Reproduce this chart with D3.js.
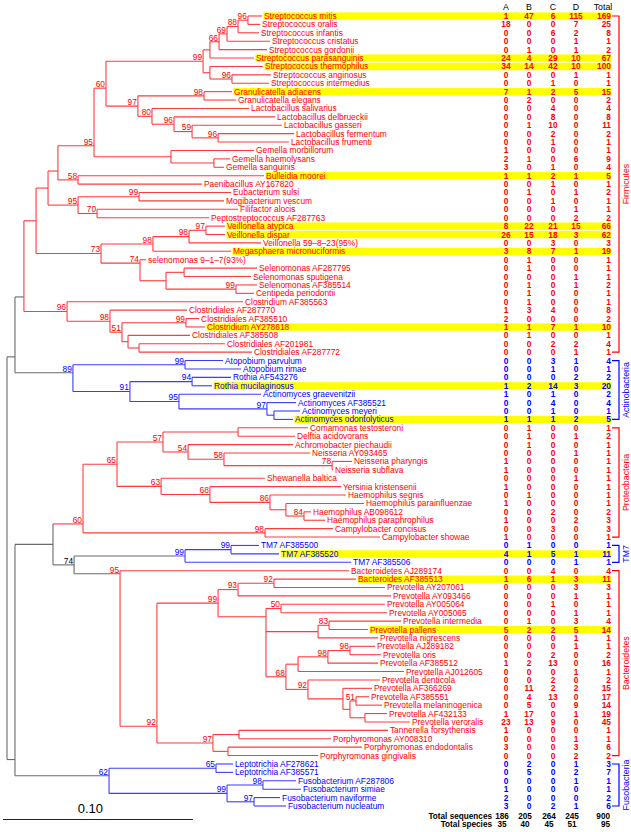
<!DOCTYPE html>
<html><head><meta charset="utf-8">
<script src="https://cdn.jsdelivr.net/npm/d3@7"></script>
<style>body{margin:0;background:#fff}svg{display:block}text{font-family:"Liberation Sans",Arial,sans-serif}</style>
</head><body><svg id="c" width="631" height="832"></svg>
<script>
// ---------------- DATA ----------------
const species = ["Streptococcus mitis","Streptococcus oralis","Streptococcus infantis","Streptococcus cristatus","Streptococcus gordonii","Streptococcus parasanguinis","Streptococcus thermophilus","Streptococcus anginosus","Streptococcus intermedius","Granulicatella adiacens","Granulicatella elegans","Lactobacillus salivarius","Lactobacillus delbrueckii","Lactobacillus gasseri","Lactobacillus fermentum","Lactobacillus frumenti","Gemella morbillorum","Gemella haemolysans","Gemella sanguinis","Bulleidia moorei","Paenibacillus AY167820","Eubacterium sulsi","Mogibacterium vescum","Filifactor alocis","Peptostreptococcus AF287763","Veillonella atypica","Veillonella dispar","Veillonella 59–8–23(95%)","Megasphaera micronuciformis","selenomonas 9–1–7(93%)","Selenomonas AF287795","Selenomonas sputigena","Selenomonas AF385514","Centipeda periodontii","Clostridium AF385563","Clostridiales AF287770","Clostridiales AF385510","Clostridium AY278618","Clostridiales AF385508","Clostridiales AF201981","Clostridiales AF287772","Atopobium parvulum","Atopobium rimae","Rothia AF543276","Rothia mucilaginosus","Actinomyces graevenitzii","Actinomyces AF385521","Actinomyces meyeri","Actinomyces odontolyticus","Comamonas testosteroni","Delftia acidovorans","Achromobacter piechaudii","Neisseria AY093465","Neisseria pharyngis","Neisseria subflava","Shewanella baltica","Yersinia kristensenii","Haemophilus segnis","Haemophilus parainfluenzae","Haemophilus AB098612","Haemophilus paraphrophilus","Campylobacter concisus","Campylobacter showae","TM7 AF385500","TM7 AF385520","TM7 AF385506","Bacteroidetes AJ289174","Bacteroides AF385513","Prevotella AY207061","Prevotella AY093466","Prevotella AY005064","Prevotella AY005065","Prevotella intermedia","Prevotella pallens","Prevotella nigrescens","Prevotella AJ289182","Prevotella oris","Prevotella AF385512","Prevotella AJ012605","Prevotella denticola","Prevotella AF366269","Prevotella AF385551","Prevotella melaninogenica","Prevotella AF432133","Prevotella veroralis","Tannerella forsythensis","Porphyromonas AY008310","Porphyromonas endodontalis","Porphyromonas gingivalis","Leptotrichia AF278621","Leptotrichia AF385571","Fusobacterium AF287806","Fusobacterium simiae","Fusobacterium naviforme","Fusobacterium nucleatum"];

const countA = [1,18,0,0,0,24,34,0,0,7, 0,0,0,0,0,0,1,2,3,1, 0,0,0,0,0,8,26,0,3,0, 0,0,0,0,0,1,2,1,0,0, 0,0,0,0,1,1,0,0,1,0, 0,0,0,1,1,0,1,0,1,0, 1,0,1,0,4,0,0,1,0,0, 0,0,0,5,0,0,0,1,0,0, 0,0,0,1,23,1,0,3,0,0, 0,0,1,2,3];
const countB = [47,0,0,0,1,4,14,0,0,1, 2,0,0,1,0,0,0,1,0,1, 0,1,0,0,0,22,15,0,8,1, 1,0,1,1,1,3,0,1,1,0, 0,0,0,0,2,0,0,0,1,1, 1,1,0,0,0,0,0,1,0,0, 0,0,0,1,1,0,0,6,0,0, 0,0,1,2,0,0,0,2,0,0, 11,4,5,17,13,0,0,0,0,2, 5,0,0,0,0];
const countC = [6,0,6,0,0,29,42,0,1,2, 0,4,8,10,2,1,0,0,1,2, 1,0,1,0,0,21,18,3,7,0, 0,0,0,0,0,4,0,7,0,2, 0,3,1,0,14,1,4,1,1,0, 0,0,0,0,0,0,0,0,0,2, 0,3,0,0,5,0,4,1,0,0, 1,0,0,2,0,0,2,13,0,2, 2,13,0,0,9,0,0,0,0,0, 0,0,0,0,2];
const countD = [115,7,2,1,1,10,10,1,0,5, 0,0,0,0,0,0,0,6,0,1, 0,1,0,1,2,15,3,0,1,0, 0,1,1,0,0,0,0,1,0,2, 1,1,0,2,3,0,0,0,2,0, 1,0,1,0,0,1,0,0,0,0, 2,0,0,0,1,1,0,3,3,1, 0,1,3,5,1,1,0,0,1,0, 2,0,9,1,0,0,1,3,2,1, 2,1,0,0,1];
const totals = [169,25,8,1,2,67,100,1,1,15, 2,4,8,11,2,1,1,9,4,5, 1,2,1,1,2,66,62,3,19,1, 1,1,2,1,1,8,2,10,1,4, 1,4,1,2,20,2,4,1,5,1, 2,1,1,1,1,1,1,1,1,2, 3,3,1,1,11,1,4,11,3,1, 1,1,4,14,1,1,2,16,1,2, 15,17,14,19,45,1,1,6,2,3, 7,1,1,2,6];
const highlighted = ["Streptococcus mitis","Streptococcus parasanguinis","Streptococcus thermophilus","Granulicatella adiacens","Bulleidia moorei","Veillonella atypica","Veillonella dispar","Megasphaera micronuciformis","Clostridium AY278618","Rothia mucilaginosus","Actinomyces odontolyticus","TM7 AF385520","Bacteroides AF385513","Prevotella pallens"];

const columnHeaders = ["A","B","C","D","Total"];
const totalSequences = [186,205,264,245,900];
const totalSpecies = [35,40,45,51,95];

// leaf depth from root (in % divergence, i.e. 1 = 0.01)
const leafDepth = [13.42,13.32,13.26,13.84,13.68,13.0,13.47,13.89,13.79,11.84, 12.05,12.74,14.11,14.47,15.11,14.84,13.0,11.74,11.42,13.53, 10.26,11.79,11.42,12.16,10.63,11.47,11.47,13.37,11.79,7.32, 13.16,12.84,13.16,13.0,12.42,9.47,10.11,10.42,9.63,11.47, 12.89,11.37,12.32,11.79,10.79,13.37,15.21,15.42,15.05,15.84, 15.16,15.05,15.95,18.16,17.16,13.58,17.58,17.84,18.79,16.0, 16.74,17.16,19.63,13.26,14.32,18.11,18.0,18.37,19.89,20.21, 19.89,20.0,20.74,19.0,19.53,19.37,19.68,19.53,20.89,19.63, 19.21,19.05,19.74,20.0,21.21,20.05,17.05,18.68,16.37,11.89, 11.89,15.21,15.47,14.37,14.68];
// parent node of each leaf
const leafParent = ["n96a","n96a","n88","n69","n66","P","T","n96b","n96b","n98g", "n98g","n80","n96c","n59","n96d","n96d","Gem","GH","GH","n58", "n58","n99e","n99e","n70","n70","n97v","n97v","n98w","n98v","n74", "SA","SA","n99s","n99s","n96cl","n98cl","n99cl","n99cl","N","M", "M","n99a","n99a","n94","n94","n95a","n97a","MO","MO","CD", "CD","n54","n58p","n78","n78","n63","n68","n86","H","n84", "n84","n98p","n98p","n99u","n99u","TM7","Bac","n92c","n92c","n93", "n50","n50","n83","n83","n318","n98y","n98y","n98x","Q","n92d", "Z","n51b","n51b","S2","S2","n239","n239","n228","n228","n65f", "n65f","n98f","n98f","n97f","n97f"];
// internal nodes: [id, parent, depth (% divergence), bootstrap]
const internalNodes = [
 ["root",null,0,""],["FA","root",0.42,""],["Firm","FA",0.89,""],["A","Firm",1.53,""],
 ["N48","A",2.16,""],["X58","N48",2.68,""],["n95","X58",4.58,"95"],["n60","n95",5.21,"60"],
 ["n99","n60",10.32,"99"],["P","n99",10.68,""],["n66","P",11.16,"66"],["n69","n66",11.58,"69"],
 ["n88","n69",12.16,"88"],["n96a","n88",12.68,"96"],["T","n99",10.68,""],["n96b","T",11.84,"96"],
 ["n97","n60",6.89,"97"],["n98g","n97",10.37,"98"],["n80","n97",7.63,"80"],["n96c","n80",8.79,"96"],
 ["n59","n96c",9.74,"59"],["n96d","n59",11.11,"96"],["Gem","n95",8.63,""],["GH","Gem",10.89,""],
 ["n58","X58",3.74,"58"],["n95b","N48",3.74,"95"],["n99e","n95b",6.95,"99"],["n70","n95b",4.74,"70"],
 ["n73","A",4.95,"73"],["n98v","n73",7.68,"98"],["n98w","n98v",9.58,"98"],["n97v","n98w",10.47,"97"],
 ["n74","n73",7.0,"74"],["S","n74",8.37,""],["SA","S",9.32,""],["n99s","S",12.05,"99"],
 ["n96cl","Firm",3.16,"96"],["n98cl","n96cl",5.42,"98"],["n51","n98cl",6.05,"51"],["n99cl","n51",9.42,"99"],
 ["N","n51",6.37,""],["M","N",6.95,""],
 ["Act","FA",3.47,"89"],["n99a","Act",9.37,"99"],["n91","Act",6.47,"91"],["n94","n91",9.74,"94"],
 ["n95a","n91",9.05,"95"],["n97a","n95a",13.68,"97"],["MO","n97a",14.05,""],
 ["R","root",0.42,""],["n53","R",2.42,""],["Pro","n53",4.0,"60"],["n65","Pro",5.79,"65"],
 ["n57","n65",8.21,"57"],["CD","n57",12.16,""],["n54","n57",9.53,"54"],["n58p","n54",11.42,"58"],
 ["n78","n58p",17.11,"78"],["n63","n65",8.11,"63"],["n68","n63",10.68,"68"],["n86","n68",13.84,"86"],
 ["H","n86",14.68,""],["n84","H",15.63,"84"],["n98p","Pro",13.58,"98"],
 ["n74g","n53",3.53,"74"],["TM7","n74g",9.37,"99"],["n99u","TM7",11.79,"99"],
 ["Bac","n74g",5.95,"95"],["n92b","Bac",7.89,"92"],["n99b","n92b",11.11,"99"],["n93","n99b",12.16,"93"],
 ["n92c","n93",14.05,"92"],["Big","n99b",13.63,""],["n50","Big",14.42,"50"],["n318","Big",16.37,""],
 ["n83","n318",16.95,"83"],["n68b","Big",14.68,"68"],["Q","n68b",15.32,""],["n98x","Q",16.89,"98"],
 ["n98y","n98x",18.05,"98"],["n92d","n68b",15.84,"92"],["Z","n92d",17.68,""],["Z2","Z",18.05,""],
 ["n51b","Z2",18.37,"51"],["S2","Z2",18.84,""],["n97b","n92b",10.84,"97"],["n239","n97b",12.21,""],
 ["n228","n97b",11.63,""],
 ["Fus","R",5.37,"62"],["n65f","Fus",11.0,"65"],["n99f","Fus",11.58,"99"],["n98f","n99f",13.47,"98"],
 ["n97f","n99f",13.0,"97"]
];
const groups = [
 {name:"Firmicutes",root:"Firm",color:"red"},
 {name:"Actinobacteria",root:"Act",color:"blue"},
 {name:"Proteobacteria",root:"Pro",color:"red",coloredStem:true},
 {name:"TM7",root:"TM7",color:"blue"},
 {name:"Bacteroidetes",root:"Bac",color:"red"},
 {name:"Fusobacteria",root:"Fus",color:"blue"}
];

// ---------------- LAYOUT / STYLE ----------------
// where a node's stem meets its vertical connector, as a fraction of the connector (default 0.5)
const nodeAnchor = {Firm:0.84, FA:0.79, X58:0.74, n95:0.84, n60:0.6, Act:0.3, Pro:0.87,
  Bac:0.02, n92b:0.88, Big:0.12, Fus:0.3, R:0.93, n74:0.16};
const COL = {red:"#ff0000", blue:"#0000ff"};
const LINE = {red:"#ff3b3b", blue:"#3b3bff", gray:"#6a6a6a"};
const FS = 8.4;
const svg = d3.select("#c");
const x = d3.scaleLinear().domain([0,10]).range([7,197]);
const y = d3.scaleLinear().domain([1,95]).range([16,806]);

const table = internalNodes.map(d=>({id:d[0],parent:d[1],depth:d[2],boot:d[3]}))
  .concat(species.map((s,i)=>({id:"L"+(i+1),parent:leafParent[i],depth:leafDepth[i],idx:i+1,name:s})));
const root = d3.stratify().id(d=>d.id).parentId(d=>d.parent)(table);

root.eachAfter(n=>{
  n.px = x(n.data.depth);
  if(!n.children) n.py = y(n.data.idx);
  else {
    const ys=n.children.map(c=>c.py); n.y0=d3.min(ys); n.y1=d3.max(ys);
    const f = nodeAnchor[n.id] ?? 0.5;
    n.py = n.y0 + f*(n.y1-n.y0);
  }
});
root.each(n=>{n.col="gray";});
groups.forEach(g=>{
  const gn = root.find(n=>n.id===g.root);
  gn.each(n=>{n.col=g.color;});
  const lv = gn.leaves().map(l=>l.data.idx);
  g.first = d3.min(lv); g.last = d3.max(lv);
});
const stemGray = new Set(groups.filter(g=>!g.coloredStem).map(g=>g.root));

// highlights
const hlSet = new Set(highlighted);
const leaves = root.leaves().sort((a,b)=>a.data.idx-b.data.idx);
svg.append("g").selectAll("rect").data(leaves.filter(l=>hlSet.has(l.data.name))).join("rect")
  .attr("x",d=>d.px+1.5).attr("y",d=>d.py-3.6).attr("width",d=>611-(d.px+1.5)).attr("height",7.4)
  .attr("fill","#ffff00");

// branches
const gL = svg.append("g").attr("fill","none").attr("stroke-width",1.1);
root.descendants().filter(n=>n.parent).forEach(n=>{
  gL.append("line").attr("x1",n.parent.px).attr("x2",n.px).attr("y1",n.py).attr("y2",n.py)
    .attr("stroke", stemGray.has(n.id)? LINE.gray : LINE[n.col]);
});
root.descendants().filter(n=>n.children).forEach(n=>{
  gL.append("line").attr("x1",n.px).attr("x2",n.px).attr("y1",n.y0).attr("y2",n.y1)
    .attr("stroke", LINE[n.col]);
});

// bootstrap labels
svg.append("g").selectAll("text").data(root.descendants().filter(n=>n.data.boot)).join("text")
  .attr("x",d=>d.px-1).attr("y",d=>d.py-1.2).attr("text-anchor","end")
  .attr("font-size",FS).attr("fill",d=>d.col==="gray"?"#000":COL[d.col]).text(d=>d.data.boot);

// leaf labels
svg.append("g").selectAll("text").data(leaves).join("text")
  .attr("x",d=>d.px+2).attr("y",d=>d.py+3).attr("font-size",FS)
  .attr("fill",d=>COL[d.col]).text(d=>d.data.name);

// count columns
const colX = [506,529,553,576,611];
const colAnchor = ["middle","middle","middle","middle","end"];
const colVals = [countA,countB,countC,countD,totals];
svg.append("g").selectAll("text").data(columnHeaders).join("text")
  .attr("x",(d,i)=>i<4?colX[i]:603).attr("y",10).attr("text-anchor","middle")
  .attr("font-size",8.8).attr("fill","#000").text(d=>d);
colVals.forEach((vals,ci)=>{
  svg.append("g").selectAll("text").data(leaves).join("text")
    .attr("x",colX[ci]).attr("y",d=>d.py+3).attr("text-anchor",colAnchor[ci])
    .attr("font-size",FS).attr("font-weight","bold").attr("fill",d=>COL[d.col])
    .text(d=>vals[d.data.idx-1]);
});
// totals rows
[[ "Total sequences", totalSequences, 819],[ "Total species", totalSpecies, 827]].forEach(([lab,vals,yy])=>{
  svg.append("text").attr("x",492).attr("y",yy).attr("text-anchor","end").attr("font-size",8.2)
    .attr("font-weight","bold").text(lab);
  vals.forEach((v,i)=>{
    svg.append("text").attr("x",i<4?colX[i]-4:colX[i]-1).attr("y",yy).attr("text-anchor",colAnchor[i])
      .attr("font-size",8.2).attr("font-weight","bold").text(v);
  });
});

// group brackets
groups.forEach(g=>{
  const y0=y(g.first), y1=y(g.last), bx=619;
  svg.append("path").attr("d",`M612,${y0}H${bx}V${y1}H612`).attr("fill","none")
    .attr("stroke",COL[g.color]).attr("stroke-width",1.2);
  svg.append("text").attr("transform",`translate(628.5,${(y0+y1)/2}) rotate(-90)`)
    .attr("text-anchor","middle").attr("font-size",8.8).attr("fill",COL[g.color]).text(g.name);
});

// scale bar (0.10 substitutions)
const barX0 = 3, barLen = x(10)-x(0);
svg.append("line").attr("x1",barX0).attr("x2",barX0+barLen).attr("y1",819.5).attr("y2",819.5)
  .attr("stroke","#222").attr("stroke-width",1);
svg.append("text").attr("x",barX0+barLen*0.46).attr("y",813).attr("text-anchor","middle")
  .attr("font-size",13).text("0.10");
</script></body></html>
